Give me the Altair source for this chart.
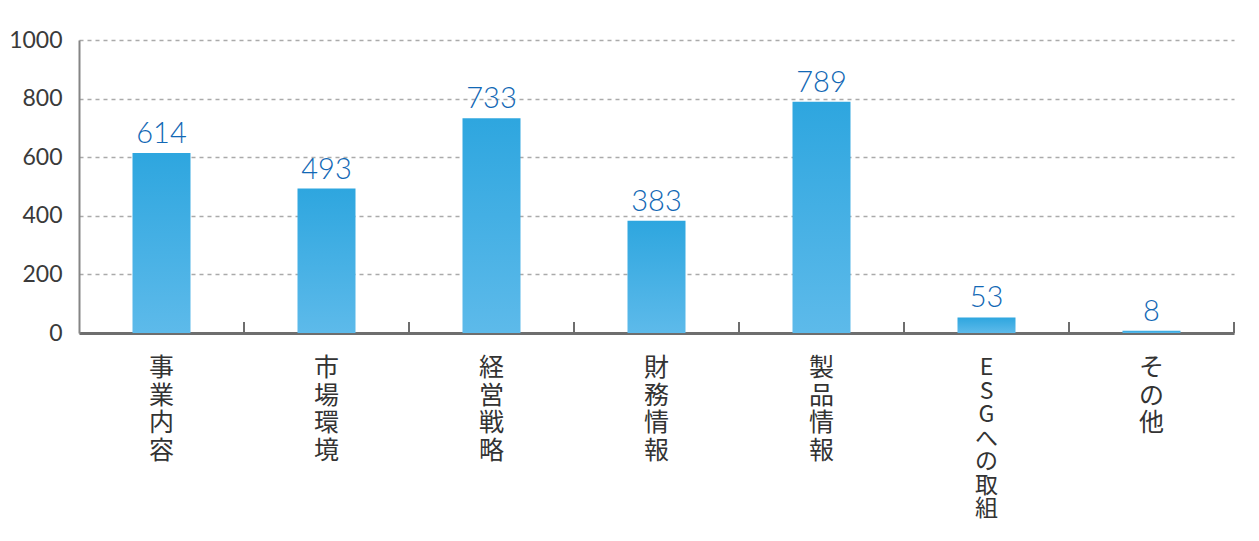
import altair as alt
import pandas as pd

categories = ["事業内容", "市場環境", "経営戦略", "財務情報", "製品情報", "ESGへの取組", "その他"]
values = [614, 493, 733, 383, 789, 53, 8]
y_ticks = [0, 200, 400, 600, 800, 1000]

df = pd.DataFrame({"cat": categories, "val": values})

W, H = 1155, 293

xenc = alt.X("cat:N", sort=categories,
             scale=alt.Scale(paddingInner=0, paddingOuter=0),
             axis=alt.Axis(title=None, labels=False, ticks=False, domain=True,
                           domainColor="#6e6e6e", domainWidth=3, grid=False))

base = alt.Chart(df)

bars = base.mark_bar(
    size=58,
    color=alt.Gradient(
        gradient="linear",
        stops=[alt.GradientStop(color="#2ea6df", offset=0),
               alt.GradientStop(color="#5dbaea", offset=1)],
        x1=0, x2=0, y1=0, y2=1),
).encode(
    x=xenc,
    y=alt.Y("val:Q", scale=alt.Scale(domain=[0, 1000]),
            axis=alt.Axis(title=None, values=y_ticks, format="d", ticks=False, labelPadding=17,
                          labelFontSize=23, labelColor="#3a3a3a", labelFont="Lato",
                          labelFontWeight=400,
                          domain=True, domainColor="#858585", domainWidth=2,
                          grid=True, gridColor="#aaaaaa", gridDash=[4, 4], gridWidth=1.5)),
)

value_labels = base.mark_text(
    dy=-10, baseline="alphabetic", align="center", fontSize=29, font="Lato",
    fontWeight=300, color="#1268b5"
).encode(
    x=alt.X("cat:N", sort=categories),
    y="val:Q",
    text="val:Q",
)

ticks = base.mark_rule(color="#6e6e6e", strokeWidth=2).encode(
    x=alt.X("cat:N", sort=categories, bandPosition=1),
    y=alt.value(H),
    y2=alt.value(H - 11),
)

short_labels = base.transform_filter(
    "length(datum.cat) <= 4"
).transform_calculate(
    lines="split(datum.cat, '')"
).mark_text(
    baseline="top", align="center", fontSize=25, lineHeight=27.5,
    font="Noto Sans CJK JP", color="#333333"
).encode(
    x=alt.X("cat:N", sort=categories),
    y=alt.value(H + 23),
    text="lines:N",
)

long_labels = base.transform_filter(
    "length(datum.cat) > 4"
).transform_calculate(
    lines="split(datum.cat, '')"
).mark_text(
    baseline="top", align="center", fontSize=23, lineHeight=23.5,
    font="Noto Sans CJK JP", color="#333333"
).encode(
    x=alt.X("cat:N", sort=categories),
    y=alt.value(H + 24),
    text="lines:N",
)

chart = alt.layer(bars, value_labels, ticks, short_labels, long_labels).properties(
    width=W, height=H,
    autosize=alt.AutoSizeParams(type="none"),
    padding={"left": 71, "top": 32, "right": 17, "bottom": 195},
).configure_view(stroke=None)

chart.save("out.html", embed_options={"renderer": "svg", "actions": False})
